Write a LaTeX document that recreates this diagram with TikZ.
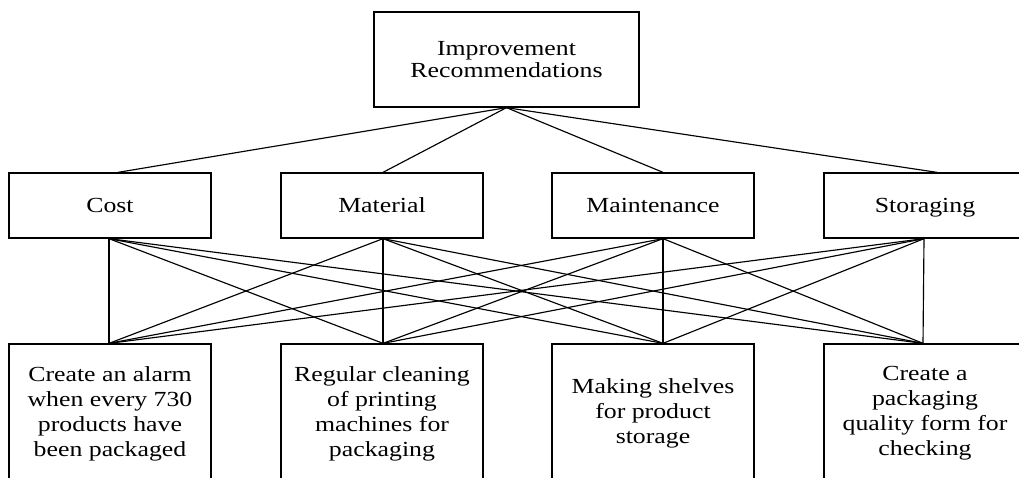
\documentclass[tikz,border=0pt]{standalone}
\usepackage{fontspec}
\setmainfont{Liberation Serif}[FakeStretch=1.2]
\usetikzlibrary{calc}
\begin{document}
\begin{tikzpicture}[x=1pt,y=-1pt,
  box/.style={draw, line width=1.3pt, rectangle, inner sep=0pt, align=center,
              font=\fontsize{21.5}{25}\selectfont},
  catbox/.style={box, minimum width=202, minimum height=65,
                 text height=15pt, text depth=2pt},
  actbox/.style={box, minimum width=202, minimum height=139},
  link/.style={line width=1.15pt}]
% page frame
\clip (0,0) rectangle (1019,477);
\fill[white] (0,0) rectangle (1019,477);

% root
\node[box, minimum width=265, minimum height=95,
      font=\fontsize{21.5}{22}\selectfont] (root) at (506.5,59.5)
  {Improvement\\Recommendations};

% categories
\node[catbox] (cost) at (110,205.5) {Cost};
\node[catbox] (mat)  at (382,205.5) {Material};
\node[catbox] (main) at (653,205.5) {Maintenance};
\node[catbox] (stor) at (925,205.5) {Storaging};

% actions
\node[actbox] (alarm) at (110,413.5) {Create an alarm\\when every 730\\products have\\been packaged};
\node[actbox] (clean) at (382,413.5) {Regular cleaning\\of printing\\machines for\\packaging};
\node[actbox] (shelf) at (653,413.5) {Making shelves\\for product\\storage};
\node[actbox] (form)  at (925,413.5) {Create a\\packaging\\quality form for\\checking};

% ports
\coordinate (cost-t) at ($(cost.north)+(8,0)$);
\coordinate (mat-t)  at ($(mat.north)+(1,0)$);
\coordinate (main-t) at ($(main.north)+(10,0)$);
\coordinate (stor-t) at ($(stor.north)+(12,0)$);

\coordinate (cost-b) at ($(cost.south)+(-1,0)$);
\coordinate (mat-b)  at ($(mat.south)+(1,0)$);
\coordinate (main-b) at ($(main.south)+(10,0)$);
\coordinate (stor-b) at ($(stor.south)+(-1,0)$);

\coordinate (alarm-t) at ($(alarm.north)+(-1,0)$);
\coordinate (clean-t) at ($(clean.north)+(1,0)$);
\coordinate (shelf-t) at ($(shelf.north)+(10,0)$);
\coordinate (form-t)  at ($(form.north)+(-2,0)$);

% root to categories
\foreach \c in {cost-t,mat-t,main-t,stor-t}
  \draw[link] (root.south) -- (\c);

% every category to every action
\foreach \a in {cost-b,mat-b,main-b,stor-b}
  \foreach \b in {alarm-t,clean-t,shelf-t,form-t}
    \draw[link] (\a) -- (\b);
\end{tikzpicture}
\end{document}
